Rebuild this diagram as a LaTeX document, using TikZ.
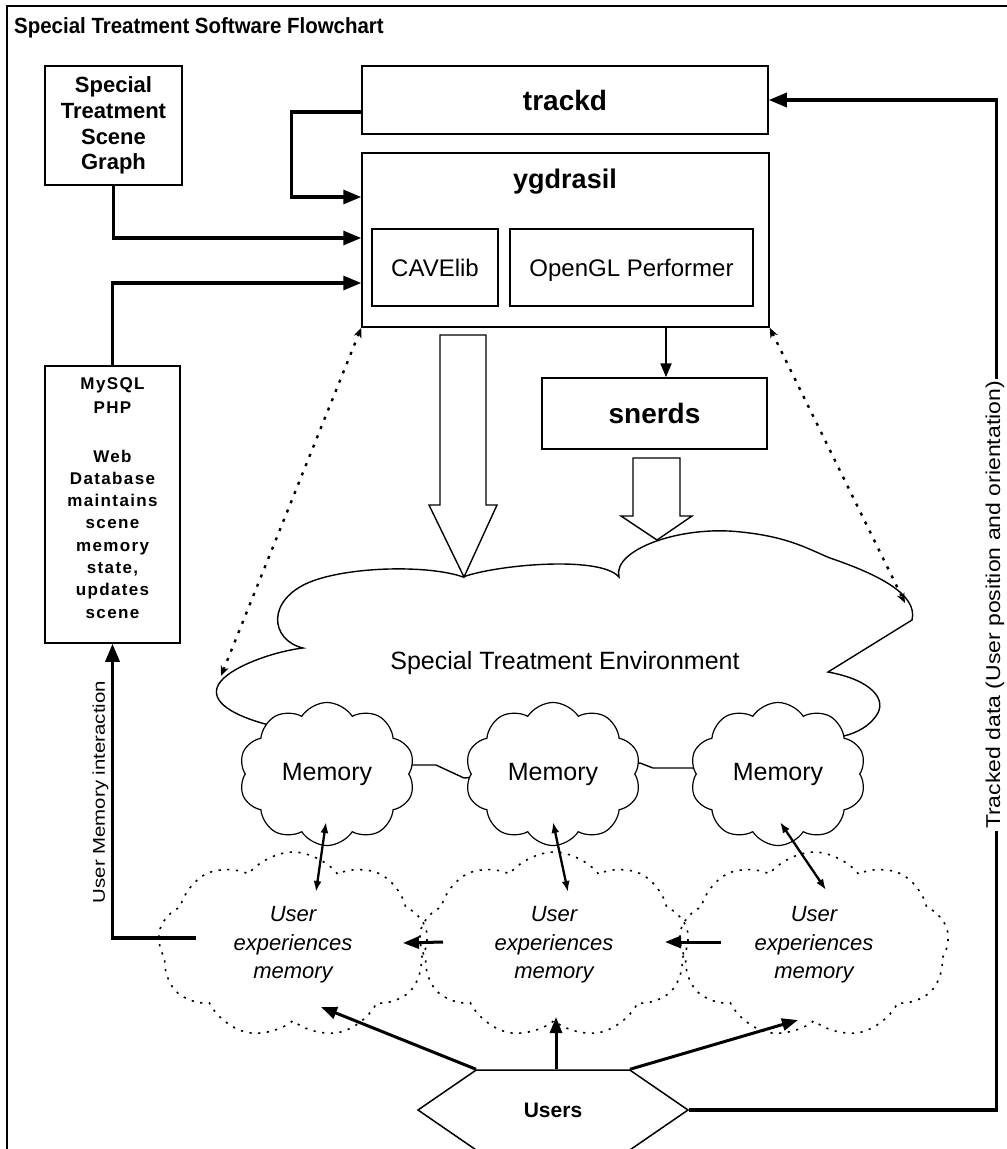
\documentclass[tikz,border=0pt]{standalone}
\usepackage{fontspec}
\setmainfont{Liberation Sans}
\newfontfamily\spacedfont[LetterSpace=8]{Liberation Sans}
\usepackage{graphicx}
\usetikzlibrary{arrows.meta,shapes.symbols,shapes.geometric,calc}
\begin{document}
\begin{tikzpicture}[x=1pt,y=-1pt,
  box/.style={draw, line width=1.5pt, fill=white, inner sep=0pt},
  conn/.style={line width=3.2pt, -{Triangle[length=18pt,width=14pt]}},
  medconn/.style={line width=3pt, -{Triangle[length=16pt,width=12pt]}},
  biconn/.style={line width=2.3pt, {Latex[length=11pt,width=8pt]}-{Latex[length=11pt,width=8pt]}},
  dotconn/.style={line width=2.4pt, dash pattern=on 3pt off 7pt, {Stealth[length=10pt,width=8pt]}-{Stealth[length=10pt,width=8pt]}},
  memcloud/.style={cloud, cloud puffs=10, cloud puff arc=115, draw, line width=1.2pt, fill=white, minimum width=176pt, minimum height=122pt, inner sep=0pt, font=\fontsize{25}{28}\selectfont},
  uemcloud/.style={cloud, cloud puffs=9, cloud puff arc=105, draw, line width=1.6pt, dash pattern=on 2.2pt off 6.5pt, minimum width=270pt, minimum height=150pt, inner sep=0pt, align=center, font=\itshape\fontsize{22}{28.5}\selectfont},
  hollow/.style={draw, line width=1.4pt, fill=white, line join=miter}
]
\useasboundingbox (0,0) rectangle (1007,1149);
\fill[white] (0,0) rectangle (1007,1149);
\draw[line width=2pt] (1007,6) -- (7,6) -- (7,1149);

% title
\node[anchor=base west, inner sep=0pt, font=\bfseries\fontsize{22}{24}\selectfont] (title) at (14,33) {\scalebox{0.93}[1]{Special Treatment Software Flowchart}};

% top boxes
\node[box, minimum width=137pt, minimum height=119pt, align=center, font=\bfseries\fontsize{22}{25.7}\selectfont] (scene) at (113.5,125.5) {Special\\Treatment\\Scene\\Graph};
\node[box, minimum width=406pt, minimum height=68pt, font=\bfseries\fontsize{28}{30}\selectfont] (trackd) at (565,100) {trackd};
\node[box, minimum width=407pt, minimum height=174pt] (ygd) at (565.5,240) {};
\node[anchor=base, inner sep=0pt, font=\bfseries\fontsize{27}{30}\selectfont] (ygdl) at (565,188) {ygdrasil};
\node[box, minimum width=126pt, minimum height=77pt, text depth=0pt, font=\fontsize{24}{26}\selectfont] (cave) at (435,267.5) {CAVElib};
\node[box, minimum width=243pt, minimum height=77pt, text depth=0pt, font=\fontsize{24}{26}\selectfont] (ogl) at (631.5,267.5) {OpenGL Performer};
\node[box, minimum width=225pt, minimum height=71pt, font=\bfseries\fontsize{28}{30}\selectfont] (snerds) at (654.5,413.5) {snerds};

% MySQL box
\node[box, minimum width=135pt, minimum height=277pt] (mysql) at (112.5,504.5) {};
\node[anchor=north, align=center, inner sep=0pt, font=\spacedfont\bfseries\fontsize{17}{22.3}\selectfont] (mysqltext) at (112.5,377) {MySQL\\[1.7pt]PHP\\[26.7pt]Web\\Database\\maintains\\scene\\memory\\state,\\updates\\scene};

% big cloud
\draw[line width=1.4pt, fill=white] (273,726)
 .. controls (240,718) and (212,705) .. (217,688)
 .. controls (222,670) and (270,652) .. (303,648)
 .. controls (270,640) and (266,600) .. (310,582)
 .. controls (350,566) and (430,565) .. (463,577)
 .. controls (495,565) and (600,555) .. (619,577)
 .. controls (612,550) and (680,525) .. (741,532)
 .. controls (790,537) and (810,550) .. (830,558)
 .. controls (880,575) and (918,595) .. (912,620)
 -- (828,672)
 .. controls (872,680) and (888,700) .. (876,716)
 .. controls (866,730) and (850,735) .. (839,737)
 -- (780,770) -- (691,768) -- (653,768) -- (640,763) -- (560,770) -- (464,778) -- (436,765) -- (415,765) -- (330,765) -- cycle;
\node[anchor=base, inner sep=0pt, font=\fontsize{25}{28}\selectfont] (ste) at (565,669) {Special Treatment Environment};
\coordinate (steL) at (221,676);
\coordinate (steR) at (905,603);

% hollow arrows
\draw[hollow] (440,335) -- (486,335) -- (486,505) -- (497,505) -- (464,577) -- (429,505) -- (440,505) -- cycle;
\draw[hollow] (633,458) -- (680,458) -- (680,516) -- (692,516) -- (657,540) -- (621,516) -- (633,516) -- cycle;

% memory clouds
\node[memcloud] (m1) at (327,774) {Memory};
\node[memcloud] (m2) at (553,774) {Memory};
\node[memcloud] (m3) at (778,774) {Memory};

% user experience clouds
\node[uemcloud] (u1) at (293,945) {User\\experiences\\memory};
\node[uemcloud] (u2) at (554,945) {User\\experiences\\memory};
\node[uemcloud] (u3) at (814,945) {User\\experiences\\memory};

% users
\node[signal, signal to=east and west, signal pointer angle=69, draw, line width=1.5pt, fill=white, minimum width=270pt, minimum height=80pt, inner sep=0pt, font=\bfseries\fontsize{21}{24}\selectfont] (users) at (553,1110) {Users};

% connectors top-left
\draw[conn] ([yshift=-12pt]trackd.west) -- ++(-70,0) |- ([yshift=43pt]ygd.west);
\draw[conn] (scene.south) |- ([yshift=2pt]ygd.west);
\draw[conn] (mysql.north) |- ([yshift=-43pt]ygd.west);
\draw[line width=2.2pt, -{Triangle[length=14pt,width=11pt]}] ([xshift=11.5pt]snerds.north |- ygd.south) -- ([xshift=11.5pt]snerds.north);

% dotted arrows
\draw[dotconn] (ygd.south west) -- (steL);
\draw[dotconn] (ygd.south east) -- (steR);

% memory <-> user experience
\draw[biconn] ($(m1)+(-1,48)$) -- ($(u1)+(23,-53)$);
\draw[biconn] ($(m2)+(0,48)$) -- ($(u2)+(14,-53)$);
\draw[biconn] ($(m3)+(2,48)$) -- ($(u3)+(12,-55)$);

% between user clouds
\draw[medconn] ($(u2)+(-111,-3)$) -- ($(u1)+(110,-2)$);
\draw[medconn] ($(u3)+(-93,-3)$) -- ($(u2)+(111,-3)$);

% users to clouds
\draw[medconn] ([xshift=-77pt]users.north) -- ($(u1)+(28,62)$);
\draw[medconn] ([xshift=3pt]users.north) -- ($(u2)+(2,72)$);
\draw[medconn] ([xshift=77pt]users.north) -- ($(u3)+(-16,75)$);

% user memory interaction
\coordinate (uml) at (196,938);
\draw[conn] (uml) -| (mysql.south);
\node[rotate=90, inner sep=0pt, font=\fontsize{17}{20}\selectfont] (umlab) at (100.5,792) {\scalebox{1.2}[1]{User Memory interaction}};

% tracked data
\draw[conn] (users.east) -- ++(307,0) |- (trackd.east);
\node[rotate=90, fill=white, inner sep=2pt, font=\fontsize{20}{22}\selectfont] (tlab) at (995,605) {\scalebox{1.15}[1]{Tracked data (User position and orientation)}};
\end{tikzpicture}
\end{document}
